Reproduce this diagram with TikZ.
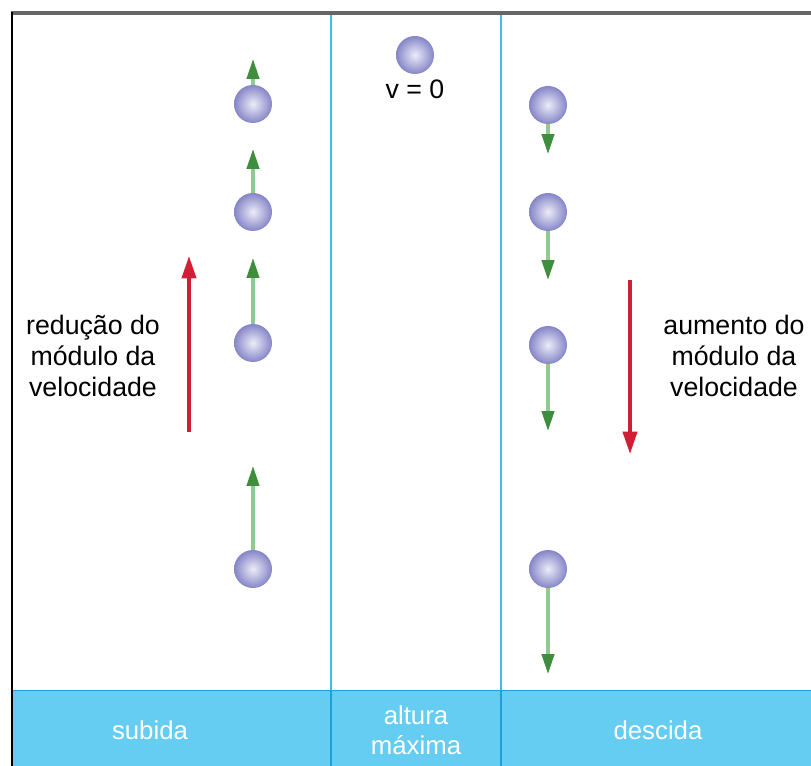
\documentclass[tikz,border=0pt]{standalone}
\usepackage{fontspec}
\setmainfont{Liberation Sans}
\usetikzlibrary{arrows.meta,positioning}
\definecolor{ballout}{HTML}{8585C8}
\definecolor{ballin}{HTML}{ECECF8}
\definecolor{shaftgreen}{HTML}{92C892}
\definecolor{headgreen}{HTML}{3E8E3E}
\definecolor{velred}{HTML}{D01F35}
\definecolor{bandcyan}{HTML}{66CDF2}
\definecolor{linecyan}{HTML}{3DBBEA}
\definecolor{bandline}{HTML}{1E9FD8}

\begin{document}
\begin{tikzpicture}[
  x=0.03cm,y=-0.03cm,
  ball/.style={circle,minimum size=1.14cm,inner sep=0pt,
    inner color=ballin,outer color=ballout},
  uparr/.style={draw=shaftgreen,line width=2.8pt,
    -{Triangle[length=17pt,width=10.5pt,color=headgreen]}},
  velarr/.style={draw=velred,line width=3pt,
    -{Triangle[length=19pt,width=12pt,color=velred]}},
  lbl/.style={align=center,font={\fontsize{22.8pt}{26.6pt}\selectfont}},
  bandlbl/.style={align=center,text=white,font={\fontsize{22pt}{25.5pt}\selectfont}}
]
  \useasboundingbox (0,0) rectangle (811,766);

  % faixa inferior
  \fill[bandcyan] (12,690) rectangle (811,766);
  \draw[bandline,line width=1pt] (12,690.5) -- (811,690.5);

  % colunas
  \draw[linecyan,line width=1.8pt] (331,14) -- (331,690);
  \draw[linecyan,line width=1.8pt] (501,14) -- (501,690);
  \draw[bandline,line width=1.8pt] (331,690) -- (331,766);
  \draw[bandline,line width=1.8pt] (501,690) -- (501,766);

  % moldura
  \draw[black!60,line width=2.6pt] (11,13) -- (811,13);
  \draw[black,line width=2pt] (12,12) -- (12,766);

  % subida
  \node[ball] (s1) at (253,104) {};
  \node[ball] (s2) at (253,212) {};
  \node[ball] (s3) at (253,343) {};
  \node[ball] (s4) at (253,569) {};
  \coordinate (ts1) at (253,59);
  \coordinate (ts2) at (253,149);
  \coordinate (ts3) at (253,258);
  \coordinate (ts4) at (253,466);
  \draw[uparr] (s1) -- (ts1);
  \draw[uparr] (s2) -- (ts2);
  \draw[uparr] (s3) -- (ts3);
  \draw[uparr] (s4) -- (ts4);

  % altura maxima
  \node[ball] (top) at (415,55) {};
  \node[lbl,below=1pt of top] (vzero) {v = 0};

  % descida
  \node[ball] (d1) at (548,105) {};
  \node[ball] (d2) at (548,212) {};
  \node[ball] (d3) at (548,345) {};
  \node[ball] (d4) at (548,569) {};
  \coordinate (td1) at (548,154);
  \coordinate (td2) at (548,280);
  \coordinate (td3) at (548,431);
  \coordinate (td4) at (548,674);
  \draw[uparr] (d1) -- (td1);
  \draw[uparr] (d2) -- (td2);
  \draw[uparr] (d3) -- (td3);
  \draw[uparr] (d4) -- (td4);

  % modulo da velocidade
  \coordinate (rl0) at (189,432);
  \coordinate (rl1) at (189,256);
  \coordinate (rr0) at (630,280);
  \coordinate (rr1) at (630,454);
  \draw[velarr] (rl0) -- (rl1);
  \draw[velarr] (rr0) -- (rr1);
  \node[lbl] (reduc) at (93,356) {redução do\\módulo da\\velocidade};
  \node[lbl] (aument) at (734,356) {aumento do\\módulo da\\velocidade};

  % legendas da faixa
  \node[bandlbl] (sub) at (150,730) {subida};
  \node[bandlbl] (alt) at (416,730) {altura\\máxima};
  \node[bandlbl] (desc) at (658,730) {descida};
\end{tikzpicture}
\end{document}
